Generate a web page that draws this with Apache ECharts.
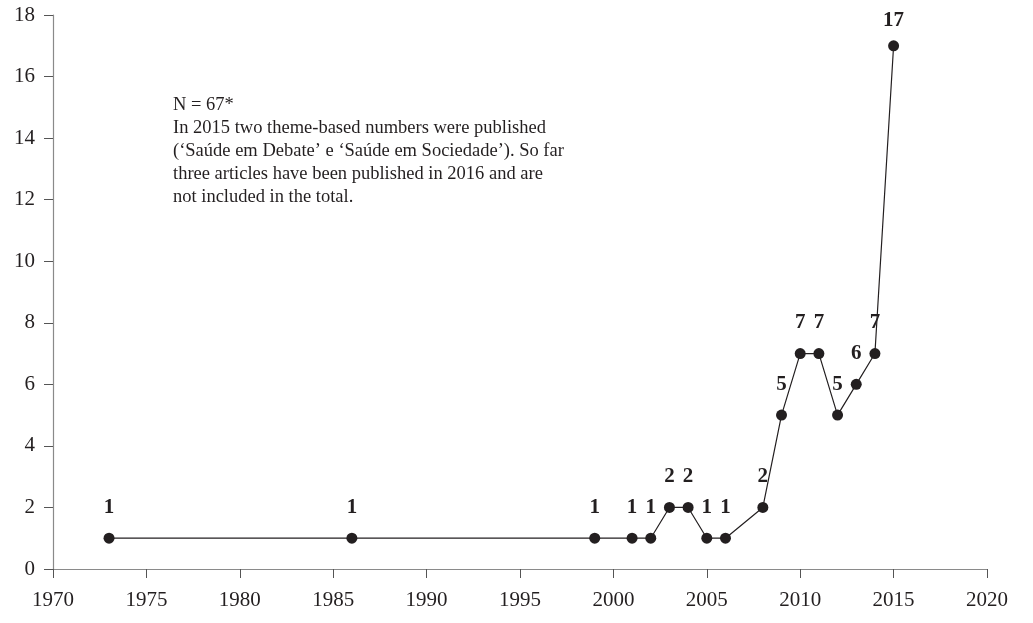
<!DOCTYPE html>
<html>
<head>
<meta charset="utf-8">
<script src="https://cdn.jsdelivr.net/npm/echarts@6/dist/echarts.min.js"></script>
<style>html,body{margin:0;padding:0;background:#fff}#c{width:1033px;height:623px}</style>
</head>
<body>
<div id="c"></div>
<script>
var years = [1973, 1986, 1999, 2001, 2002, 2003, 2004, 2005, 2006, 2008, 2009, 2010, 2011, 2012, 2013, 2014, 2015];
var counts = [1, 1, 1, 1, 1, 2, 2, 1, 1, 2, 5, 7, 7, 5, 6, 7, 17];
var noteLines = [
  'N = 67*',
  'In 2015 two theme-based numbers were published',
  '(\u2018Sa\u00fade em Debate\u2019 e \u2018Sa\u00fade em Sociedade\u2019). So far',
  'three articles have been published in 2016 and are',
  'not included in the total.'
];

var ink = '#231f20';
var font = '"Liberation Serif", "DejaVu Serif", serif';
var chart = echarts.init(document.getElementById('c'));
var data = years.map(function (y, i) {
  var item = { value: [y, counts[i]] };
  if (counts[i] === 17) item.label = { distance: 9 };
  return item;
});

chart.setOption({
  animation: false,
  grid: { left: 53, right: 46, top: 15, bottom: 54 },
  xAxis: {
    type: 'value', min: 1970, max: 2020, interval: 5,
    axisLine: { show: true, lineStyle: { color: '#8a8a8a', width: 1.2 } },
    axisTick: { show: true, inside: false, length: 9, lineStyle: { color: '#555', width: 1 } },
    axisLabel: { color: ink, fontFamily: font, fontSize: 21, margin: 21, formatter: function (v) { return String(v); } },
    splitLine: { show: false }
  },
  yAxis: {
    type: 'value', min: 0, max: 18, interval: 2,
    axisLine: { show: true, lineStyle: { color: '#8a8a8a', width: 1.2 } },
    axisTick: { show: true, inside: false, length: 9, lineStyle: { color: '#555', width: 1 } },
    axisLabel: { color: ink, fontFamily: font, fontSize: 21, margin: 18 },
    splitLine: { show: false }
  },
  series: [{
    type: 'line',
    data: data,
    symbol: 'circle',
    symbolSize: 11,
    itemStyle: { color: ink },
    lineStyle: { color: ink, width: 1.2 },
    label: {
      show: true, position: 'top', distance: 15,
      color: ink, fontFamily: font, fontSize: 21, fontWeight: 'bold',
      formatter: function (p) { return p.value[1]; }
    }
  }],
  graphic: noteLines.map(function (t, i) {
    return {
      type: 'text', left: 173, top: 96 + i * 23,
      style: { text: t, fill: ink, font: '18.5px ' + font }
    };
  })
});
</script>
</body>
</html>
